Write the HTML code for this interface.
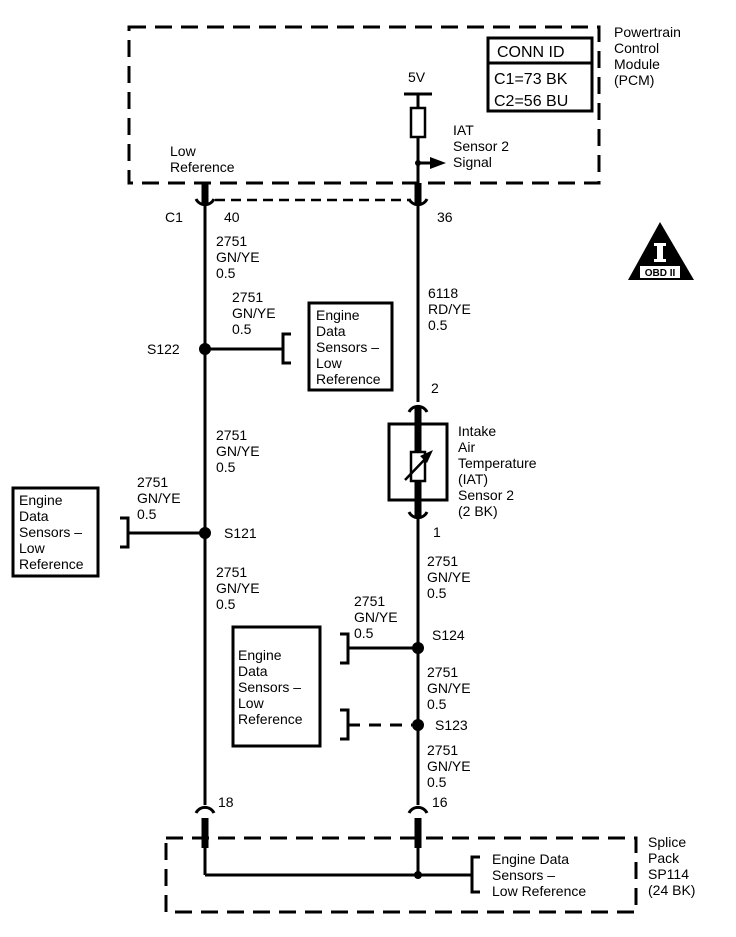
<!DOCTYPE html>
<html><head><style>
body{margin:0;background:#fff}
svg text{font-family:"Liberation Sans",Arial,sans-serif;font-size:14px;fill:#000}
</style></head><body>
<svg width="736" height="932" viewBox="0 0 736 932" xmlns="http://www.w3.org/2000/svg">
<g fill="none" stroke="#000">
<rect x="129" y="27" width="470" height="156" stroke-width="3" stroke-dasharray="17,9"/>
<rect x="166" y="838" width="470" height="74" stroke-width="3" stroke-dasharray="17,9"/>
<line x1="215" y1="200" x2="410" y2="200" stroke-width="2.5" stroke-dasharray="10,6"/>
<rect x="488" y="38" width="104" height="73" stroke-width="3"/>
<line x1="488" y1="63" x2="592" y2="63" stroke-width="3"/>
<line x1="205" y1="205" x2="205" y2="805" stroke-width="3"/>
<line x1="205" y1="183" x2="205" y2="205" stroke-width="7"/>
<path d="M196 199 A10 10 0 0 0 214 199" stroke-width="3"/>
<line x1="404" y1="94" x2="432" y2="94" stroke-width="3"/>
<line x1="418" y1="94" x2="418" y2="108" stroke-width="3"/>
<rect x="411" y="108" width="14" height="29" stroke-width="2.5"/>
<line x1="418" y1="137" x2="418" y2="183" stroke-width="3"/>
<line x1="418" y1="163" x2="432" y2="163" stroke-width="3"/>
<line x1="418" y1="183" x2="418" y2="205" stroke-width="7"/>
<path d="M409 199 A10 10 0 0 0 427 199" stroke-width="3"/>
<line x1="418" y1="205" x2="418" y2="402" stroke-width="3"/>
<path d="M409 412 A10 10 0 0 1 427 412" stroke-width="3"/>
<line x1="418" y1="406" x2="418" y2="424" stroke-width="7"/>
<rect x="389" y="424" width="58" height="76" stroke-width="3"/>
<line x1="418" y1="424" x2="418" y2="500" stroke-width="7"/>
<rect x="411" y="452" width="14" height="29" fill="#fff" stroke-width="2.5"/>
<line x1="405" y1="480" x2="428" y2="456" stroke-width="2.5"/>
<line x1="418" y1="500" x2="418" y2="518" stroke-width="7"/>
<path d="M409 512 A10 10 0 0 0 427 512" stroke-width="3"/>
<line x1="418" y1="518" x2="418" y2="805" stroke-width="3"/>
<path d="M196 813 A10 10 0 0 1 214 813" stroke-width="3"/>
<path d="M409 813 A10 10 0 0 1 427 813" stroke-width="3"/>
<line x1="205" y1="818" x2="205" y2="848" stroke-width="7"/>
<line x1="418" y1="818" x2="418" y2="848" stroke-width="7"/>
<line x1="205" y1="848" x2="205" y2="875" stroke-width="3"/>
<line x1="418" y1="848" x2="418" y2="875" stroke-width="3"/>
<line x1="205" y1="875" x2="472" y2="875" stroke-width="3"/>
<path d="M480 857 H472 V892 H480" stroke-width="3"/>
<line x1="205" y1="349" x2="283" y2="349" stroke-width="3"/>
<path d="M291 334 H283 V363 H291" stroke-width="3"/>
<rect x="309" y="303" width="83" height="87" stroke-width="3"/>
<line x1="128" y1="533" x2="205" y2="533" stroke-width="3"/>
<path d="M120 518 H128 V547 H120" stroke-width="3"/>
<rect x="13" y="488" width="85" height="88" stroke-width="3"/>
<rect x="233" y="627" width="87" height="119" stroke-width="3"/>
<line x1="348" y1="648" x2="418" y2="648" stroke-width="3"/>
<path d="M340 634 H348 V663 H340" stroke-width="3"/>
<line x1="348" y1="725" x2="412" y2="725" stroke-width="3" stroke-dasharray="12,9"/>
<path d="M340 710 H348 V739 H340" stroke-width="3"/>
</g>
<g fill="#000">
<polygon points="433,450 427,463 420,456"/>
<circle cx="205" cy="349" r="6"/>
<circle cx="205" cy="533" r="6"/>
<circle cx="418" cy="648" r="6"/>
<circle cx="418" cy="725" r="6"/>
<circle cx="418" cy="875" r="4"/>
<circle cx="418" cy="163" r="3"/>
<polygon points="430,157 446,163 430,169"/>
<polygon points="660,222 628,280 694,280"/>
</g>
<rect x="654" y="243" width="12" height="3" fill="#fff"/>
<rect x="657" y="246" width="6" height="14" fill="#fff"/>
<rect x="654" y="259" width="12" height="3" fill="#fff"/>
<rect x="640" y="266" width="40" height="12" fill="#fff"/>
<text x="660" y="276" text-anchor="middle" style="font-size:10px;font-weight:bold">OBD II</text>
<g>
<text x="497" y="57" style="font-size:16px">CONN ID</text>
<text x="494" y="84" style="font-size:16px">C1=73 BK</text>
<text x="494" y="106" style="font-size:16px">C2=56 BU</text>
<text x="614" y="37">Powertrain</text>
<text x="614" y="53">Control</text>
<text x="614" y="69">Module</text>
<text x="614" y="85">(PCM)</text>
<text x="408" y="82">5V</text>
<text x="453" y="135">IAT</text>
<text x="453" y="151">Sensor 2</text>
<text x="453" y="167">Signal</text>
<text x="170" y="156">Low</text>
<text x="170" y="172">Reference</text>
<text x="165" y="222">C1</text>
<text x="224" y="222">40</text>
<text x="437" y="222">36</text>
<text x="216" y="246">2751</text><text x="216" y="262">GN/YE</text><text x="216" y="278">0.5</text>
<text x="232" y="302">2751</text><text x="232" y="318">GN/YE</text><text x="232" y="334">0.5</text>
<text x="147" y="354">S122</text>
<text x="316" y="320">Engine</text><text x="316" y="336">Data</text><text x="316" y="352">Sensors –</text><text x="316" y="368">Low</text><text x="316" y="384">Reference</text>
<text x="428" y="298">6118</text><text x="428" y="314">RD/YE</text><text x="428" y="330">0.5</text>
<text x="431" y="393">2</text>
<text x="458" y="436">Intake</text><text x="458" y="452">Air</text><text x="458" y="468">Temperature</text><text x="458" y="484">(IAT)</text><text x="458" y="500">Sensor 2</text><text x="458" y="516">(2 BK)</text>
<text x="433" y="537">1</text>
<text x="216" y="440">2751</text><text x="216" y="456">GN/YE</text><text x="216" y="472">0.5</text>
<text x="137" y="487">2751</text><text x="137" y="503">GN/YE</text><text x="137" y="519">0.5</text>
<text x="224" y="538">S121</text>
<text x="19" y="505">Engine</text><text x="19" y="521">Data</text><text x="19" y="537">Sensors –</text><text x="19" y="553">Low</text><text x="19" y="569">Reference</text>
<text x="216" y="577">2751</text><text x="216" y="593">GN/YE</text><text x="216" y="609">0.5</text>
<text x="427" y="566">2751</text><text x="427" y="582">GN/YE</text><text x="427" y="598">0.5</text>
<text x="354" y="606">2751</text><text x="354" y="622">GN/YE</text><text x="354" y="638">0.5</text>
<text x="432" y="640">S124</text>
<text x="238" y="660">Engine</text><text x="238" y="676">Data</text><text x="238" y="692">Sensors –</text><text x="238" y="708">Low</text><text x="238" y="724">Reference</text>
<text x="427" y="677">2751</text><text x="427" y="693">GN/YE</text><text x="427" y="709">0.5</text>
<text x="435" y="730">S123</text>
<text x="427" y="755">2751</text><text x="427" y="771">GN/YE</text><text x="427" y="787">0.5</text>
<text x="218" y="807">18</text>
<text x="432" y="807">16</text>
<text x="492" y="864">Engine Data</text><text x="492" y="880">Sensors –</text><text x="492" y="896">Low Reference</text>
<text x="648" y="847">Splice</text><text x="648" y="863">Pack</text><text x="648" y="879">SP114</text><text x="648" y="895">(24 BK)</text>
</g>
</svg>
</body></html>
